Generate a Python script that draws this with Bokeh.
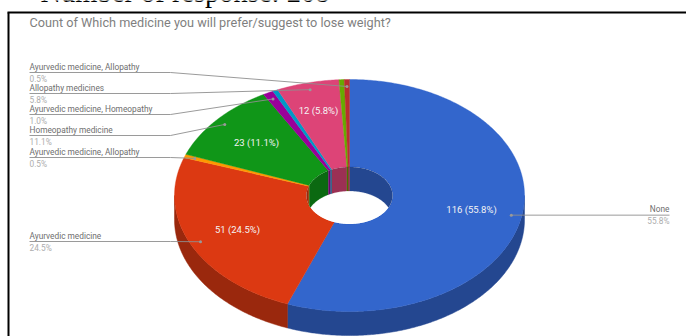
import numpy as np
from bokeh.core.properties import value
from bokeh.embed import file_html
from bokeh.models import Range1d
from bokeh.plotting import figure
from bokeh.resources import INLINE

# Responses per slice, clockwise from twelve o'clock
slice_counts = [116, 51, 1, 23, 2, 1, 12, 1, 1]
top_colors = ["#3366CC", "#DC3912", "#FF9900", "#109618", "#990099",
              "#0099C6", "#DD4477", "#66AA00", "#B82E2E"]
side_colors = ["#244790", "#9A280D", "#B36B00", "#0B6911", "#6B006B",
               "#006B8B", "#9B3054", "#477700", "#812020"]

chart_title = "Count of Which medicine you will prefer/suggest to lose weight?"
heading = "Number of response: 208"

# Callout rows: label, share, slice index, leader height
callouts = [
    ("Ayurvedic medicine, Allopathy", "0.5%", 8, 72),
    ("Allopathy medicines", "5.8%", 6, 93),
    ("Ayurvedic medicine, Homeopathy", "1.0%", 4, 114),
    ("Homeopathy medicine", "11.1%", 3, 135),
    ("Ayurvedic medicine, Allopathy", "0.5%", 2, 157),
    ("Ayurvedic medicine", "24.5%", 1, 241),
]

# Slice value labels
inner_labels = ["116 (55.8%)", "51 (24.5%)", "23 (11.1%)", "12 (5.8%)"]
inner_label_slices = [0, 1, 3, 6]

cx, cy = 349.0, 195.0
rx, ry = 175.0, 116.0
hx, hy = 43.0, 28.5
depth = 24.0
anchor_r = 0.94
label_px = "8.3px"

total = sum(slice_counts)
edges = 2 * np.pi * np.concatenate([[0], np.cumsum(slice_counts)]) / total


def ring_point(a, sx, sy, dy=0.0):
    return cx + sx * np.sin(a), cy - sy * np.cos(a) + dy


def arc(a0, a1, sx, sy, dy=0.0):
    n = max(2, int(abs(a1 - a0) / 0.01) + 2)
    return ring_point(np.linspace(a0, a1, n), sx, sy, dy)


def hole_front(x):
    # Lower edge of the hole's outline at a given x
    return cy + hy * np.sqrt(np.clip(1 - ((x - cx) / hx) ** 2, 0, 1))


p = figure(width=686, height=336, output_backend="svg", toolbar_location=None,
           x_range=Range1d(0, 686), y_range=Range1d(336, 0),
           min_border=0, outline_line_color=None)
p.axis.visible = False
p.grid.visible = False
p.background_fill_color = "white"
p.border_fill_color = "white"

# Outer wall, only the part facing the viewer
for i in range(len(slice_counts)):
    a0, a1 = edges[i], edges[i + 1]
    lo, hi = max(a0, np.pi / 2), min(a1, 3 * np.pi / 2)
    if hi <= lo:
        continue
    xt, yt = arc(lo, hi, rx, ry)
    xb, yb = arc(hi, lo, rx, ry, depth)
    p.patch(np.r_[xt, xb], np.r_[yt, yb], fill_color=side_colors[i],
            line_color=side_colors[i], line_width=0.5)

# Top faces of the ring
for i in range(len(slice_counts)):
    a0, a1 = edges[i], edges[i + 1]
    xo, yo = arc(a0, a1, rx, ry)
    xi, yi = arc(a1, a0, hx, hy)
    p.patch(np.r_[xo, xi], np.r_[yo, yi], fill_color=top_colors[i],
            line_color=top_colors[i], line_width=0.4)

# Inner wall seen through the hole, clipped to the hole's outline
wx, wy = arc(0, 2 * np.pi, hx, hy)
p.patch(wx, wy, fill_color="white", line_color="white", line_width=0)
for i in range(len(slice_counts)):
    a0, a1 = edges[i], edges[i + 1]
    for lo, hi in ((a0, min(a1, np.pi / 2)), (max(a0, 3 * np.pi / 2), a1)):
        if hi <= lo:
            continue
        xt, yt = arc(lo, hi, hx, hy)
        yb = np.minimum(yt + depth, hole_front(xt))
        p.patch(np.r_[xt, xt[::-1]], np.r_[yt, yb[::-1]], fill_color=side_colors[i],
                line_color=side_colors[i], line_width=0.2)

mid = (edges[:-1] + edges[1:]) / 2

# Callout leaders with a dot inside each slice
for label, share, idx, level in callouts:
    ax, ay = ring_point(mid[idx], rx * anchor_r, ry * anchor_r)
    p.line([29, 170, ax], [level, level, ay], line_color="#8f8f8f", line_width=0.9)
    p.scatter([ax], [ay], size=3, color="#999999", line_width=0)
    p.text([29], [level - 6], text=[label], text_font=value("Roboto"), text_font_size=label_px,
           text_color="#6e6e6e", text_baseline="middle")
    p.text([29], [level + 6], text=[share], text_font=value("Roboto"), text_font_size=label_px,
           text_color="#adadad", text_baseline="middle")

# The largest slice calls out to the right
ax, ay = ring_point(mid[0], rx * anchor_r, ry * anchor_r)
p.line([ax, 669], [ay, ay], line_color="#8f8f8f", line_width=0.9)
p.scatter([ax], [ay], size=3, color="#999999", line_width=0)
p.text([669], [ay - 6], text=["None"], text_font=value("Roboto"), text_font_size=label_px,
       text_color="#6e6e6e", text_align="right", text_baseline="middle")
p.text([669], [ay + 6], text=["55.8%"], text_font=value("Roboto"), text_font_size=label_px,
       text_color="#adadad", text_align="right", text_baseline="middle")

# Value labels on the slices
label_pos = {0: (471, 209), 1: (237, 229), 3: (256, 142), 6: (318, 110)}
for text, idx in zip(inner_labels, inner_label_slices):
    x, y = label_pos[idx]
    p.text([x], [y], text=[text], text_font=value("Roboto"), text_font_size="9.5px",
           text_color="#f4f4f4", text_align="center", text_baseline="middle")

p.text([29], [21.5], text=[chart_title], text_font=value("Roboto"), text_font_size="12.7px",
       text_color="#7f7f7f", text_baseline="middle")
p.text([40], [-8], text=[heading], text_font=value("Liberation Serif"), text_font_size="28.5px",
       text_color="#000000", text_baseline="middle")

# Frame around the chart
p.line([8, 8], [12, 336], line_color="black", line_width=2)
p.line([7, 686], [12, 12], line_color="black", line_width=2)

open("out.html", "w").write(file_html(p, INLINE))
